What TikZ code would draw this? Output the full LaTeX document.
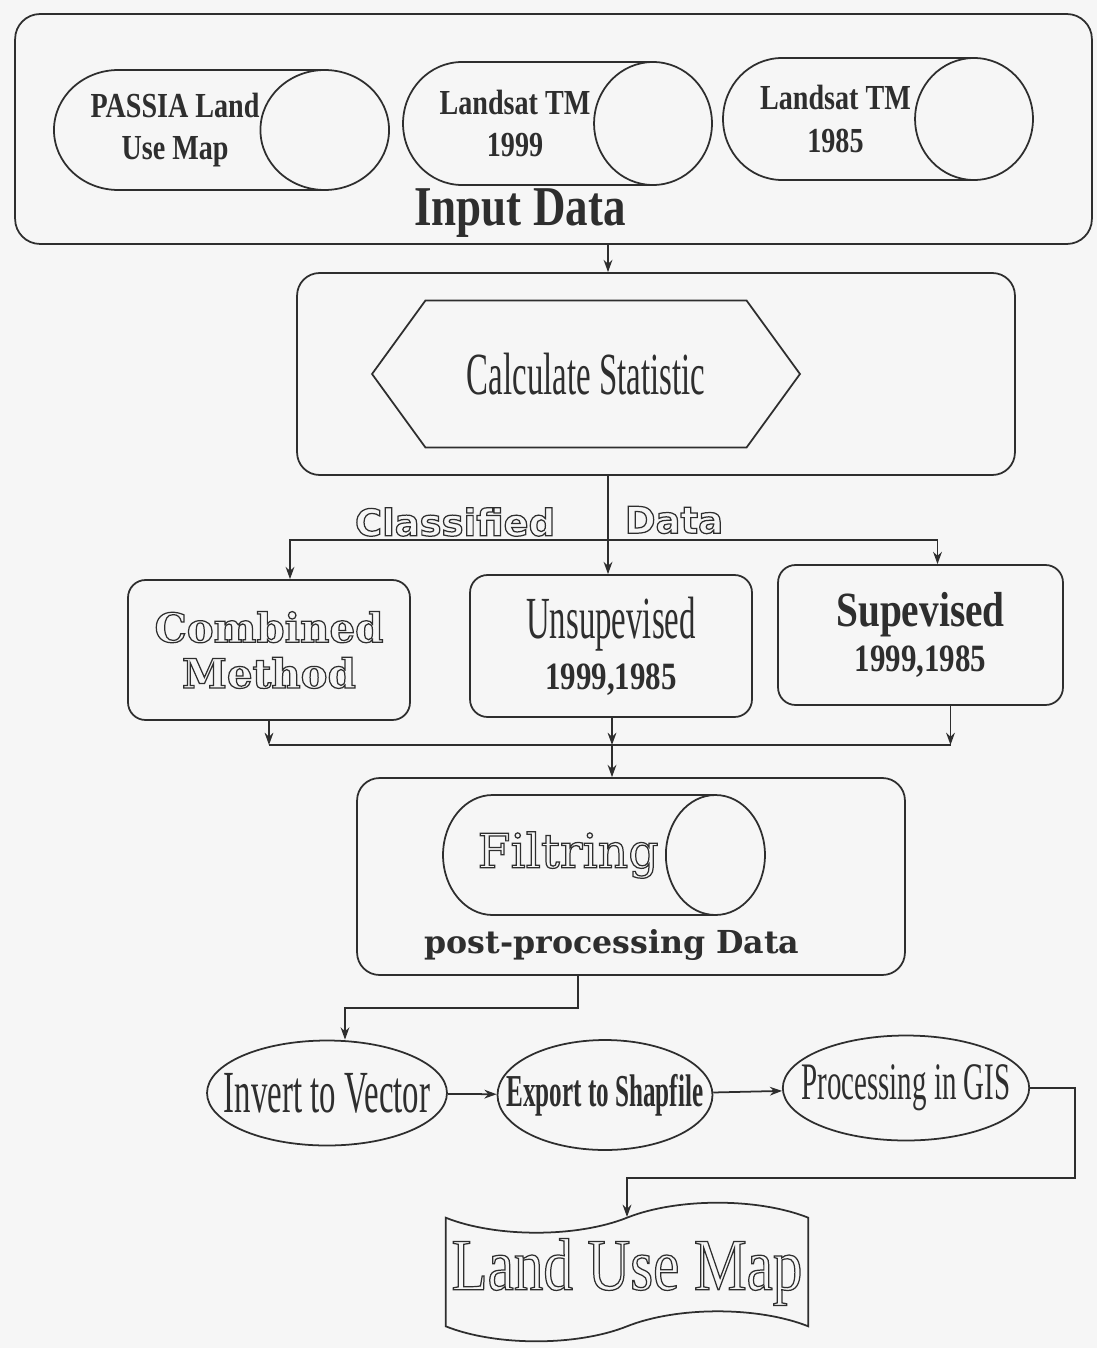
\documentclass[tikz,border=0pt]{standalone}
\usepackage{fontspec}
\setmainfont{Liberation Serif}
\newfontfamily\condfont[FakeStretch=0.8]{Liberation Serif}
\newfontfamily\narrowfont[FakeStretch=0.55]{Liberation Serif}
\newfontfamily\widefont{DejaVu Serif}
\newfontfamily\hollowfont{DejaVu Sans}
\usetikzlibrary{shapes.geometric, shapes.symbols, arrows.meta, positioning}
\definecolor{ink}{gray}{0.18}
\definecolor{paper}{gray}{0.965}
\newcommand{\outlined}[1]{\special{pdf:literal direct 1 Tr 0.7 w}#1\special{pdf:literal direct 0 Tr}}
\newcommand{\fs}[1]{\fontsize{#1}{#1}\selectfont}
\tikzstyle{panel} = [
rectangle, rounded corners=0.5cm, draw=ink, line width=1pt
]
\tikzstyle{datastore} = [
cylinder, aspect=1.5, inner xsep=0pt, draw=ink, line width=1pt, anchor=shape center,
align=center, text=ink, font=\condfont\bfseries\fontsize{20}{24}\selectfont
]
\tikzstyle{method} = [
rectangle, rounded corners=0.35cm, draw=ink, line width=1pt,
minimum width=5.64cm, minimum height=2.8cm, align=center, text=ink
]
\tikzstyle{oval} = [
ellipse, draw=ink, line width=1pt, inner ysep=0pt, text=ink
]
\tikzstyle{line} = [line width=1pt, draw=ink]
\tikzstyle{arrow} = [line width=1pt, draw=ink, ->, >={Stealth[length=7pt,width=5pt]}]

\begin{document}
\begin{tikzpicture}[x=0.02cm, y=-0.02cm]
	\useasboundingbox (0,0) rectangle (1097,1348);
	\fill[paper] (0,0) rectangle (1097,1348);
	% Input data
	\node (inputbox) [panel, minimum width=21.54cm, minimum height=4.6cm] at (553.5,129) {};
	\node (passia) [datastore, minimum height=6.26cm, minimum width=2.4cm] at (221.5,130) {PASSIA Land\\Use Map};
	\node (tm99) [datastore, minimum height=6.18cm, minimum width=2.46cm] at (557.5,123.5) {Landsat TM\\1999};
	\node (tm85) [datastore, minimum height=6.2cm, minimum width=2.44cm] at (878,119) {Landsat TM\\1985};
	\node (inputlabel) [text=ink, font=\condfont\bfseries\fs{32}] at (520,213) {Input Data};

	% Statistic
	\node (calcbox) [panel, rounded corners=0.45cm, minimum width=14.36cm, minimum height=4.04cm] at (656,374) {};
	\node (calc) [signal, signal to=west and east, signal pointer angle=108, draw=ink, line width=1pt,
		minimum width=8.56cm, minimum height=2.94cm, text=ink, font=\narrowfont\fs{34}] at (586,374) {Calculate Statistic};

	% Classification
	\node (combined) [method, font=\widefont\bfseries\fontsize{23}{26}\selectfont] at (269,650) {\outlined{Combined}\\\outlined{Method}};
	\node (unsup) [method, minimum height=2.84cm] at (611,646) {{\narrowfont\fs{34}Unsupevised}\\[6pt]{\condfont\bfseries\fs{22}1999,1985}};
	\node (sup) [method, minimum width=5.7cm] at (920.5,635) {{\condfont\bfseries\fs{28}Supevised}\\[4pt]{\condfont\bfseries\fs{22}1999,1985}};
	\node (classlabel) [text=ink, font=\hollowfont\bfseries\fs{21}] at (455,522) {\outlined{Classified}};
	\node (datalabel) [text=ink, font=\hollowfont\bfseries\fs{21}] at (674,520) {\outlined{Data}};

	% Post-processing
	\node (filterbox) [panel, rounded corners=0.45cm, minimum width=10.96cm, minimum height=3.94cm] at (631,876.5) {};
	\node (filter) [datastore, aspect=1.7, inner xsep=0.3333em, minimum height=6.44cm, minimum width=2.4cm, font=\widefont\fs{27}] at (604,855) {\outlined{Filtring}};
	\node (postlabel) [text=ink, font=\widefont\bfseries\fs{18}] at (612,945) {post-processing Data};

	% Conversion
	\node (invert) [oval, inner xsep=-10.8pt, minimum width=4.8cm, minimum height=2.1cm, font=\narrowfont\fs{34}] at (327,1093) {Invert to Vector};
	\node (export) [oval, inner xsep=-12.8pt, minimum width=4.3cm, minimum height=2.2cm, font=\narrowfont\bfseries\fs{26}] at (605,1095) {Export to Shapfile};
	\node (proc) [oval, inner xsep=-10pt, minimum width=4.86cm, minimum height=2.1cm, font=\narrowfont\fs{30}] at (906,1088) {Processing in GIS};
	\node (map) [tape, draw=ink, line width=1pt, minimum width=7.22cm, minimum height=2.7cm, tape bend height=0.6cm,
		text=ink, font=\condfont\fs{42}] at (627,1272) {\outlined{Land Use Map}};

	% Connections
	\coordinate (trunk) at (608,540);
	\coordinate (merge) at (612,745);
	\coordinate (bend) at (578,1008);
	\coordinate (corner) at (1075,1178);
	\draw [arrow] (inputbox.south -| trunk) -- (calcbox.north -| trunk);
	\draw [line] (calcbox.south -| trunk) -- (trunk);
	\draw [arrow] (trunk) -- (unsup.north -| trunk);
	\draw [arrow] (trunk) -| ([xshift=0.42cm]combined.north);
	\draw [arrow] (trunk) -| ([xshift=0.34cm]sup.north);
	\draw [arrow] (combined.south) -- (combined.south |- merge);
	\draw [arrow] (unsup.south -| merge) -- (merge);
	\draw [arrow] ([xshift=0.6cm]sup.south) -- ([xshift=0.6cm]sup.south |- merge);
	\draw [line] (combined.south |- merge) -- ([xshift=0.6cm]sup.south |- merge);
	\draw [arrow] (merge) -- (filterbox.north -| merge);
	\draw [arrow] (filterbox.south -| bend) -- (bend) -| ([xshift=0.36cm]invert.north);
	\draw [arrow] (invert) -- (export);
	\draw [arrow] (export) -- (proc);
	\draw [arrow] (proc.east) -| (corner) -| (map.north);
\end{tikzpicture}
\end{document}
